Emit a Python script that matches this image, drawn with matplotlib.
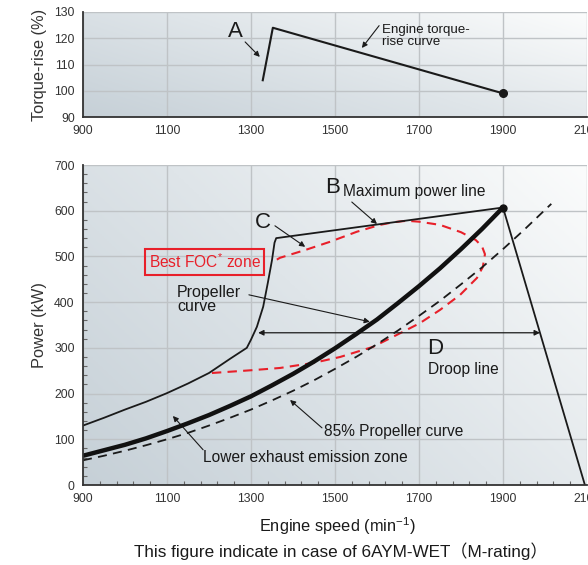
import numpy as np
import matplotlib
matplotlib.use("Agg")
import matplotlib.pyplot as plt
from matplotlib.colors import LinearSegmentedColormap

plt.rcParams['font.family'] = ['Liberation Sans', 'Noto Sans CJK JP', 'DejaVu Sans']
plt.rcParams['mathtext.fontset'] = 'custom'
plt.rcParams['mathtext.rm'] = 'Liberation Sans'
plt.rcParams['mathtext.it'] = 'Liberation Sans'
plt.rcParams['mathtext.bf'] = 'Liberation Sans'

# ---------------- data ----------------
# torque-rise (top panel)
tq_speed = [1328, 1352, 1900]
tq_rise = [104, 124, 99]

# propeller curve (thick)
prop_speed = [900, 950, 1000, 1050, 1100, 1150, 1200, 1250, 1300, 1350, 1400, 1450, 1500,
              1550, 1600, 1650, 1700, 1750, 1800, 1850, 1900]
prop_power = [64, 76, 88, 102, 118, 135, 153, 173, 194, 218, 243, 270, 299,
              330, 362, 398, 435, 474, 516, 560, 607]

# 85% propeller curve (dashed)
p85_speed = [900, 950, 1000, 1050, 1100, 1150, 1200, 1250, 1300, 1350, 1400, 1450, 1500,
             1550, 1600, 1650, 1700, 1750, 1800, 1850, 1900, 1950, 2015]
p85_power = [54, 64, 75, 87, 100, 114, 130, 147, 165, 185, 206, 229, 254,
             280, 308, 338, 370, 403, 439, 476, 516, 558, 615]

# limit curve + maximum power line
lim_speed = [900, 950, 1000, 1050, 1100, 1150, 1200, 1250, 1290, 1300, 1314, 1329, 1340,
             1350, 1356, 1360, 1900]
lim_power = [130, 147, 165, 182, 201, 222, 245, 276, 300, 318, 346, 390, 442,
             492, 530, 540, 607]

# droop line
droop_speed = [1900, 2095]
droop_power = [607, 0]

# best FOC zone (red dashed)
foc_speed = [1207, 1300, 1369, 1448, 1512, 1590, 1655, 1702, 1750, 1798, 1838, 1852, 1857,
             1850, 1835, 1800, 1750, 1700, 1671, 1640, 1607, 1552, 1488, 1429, 1369, 1352]
foc_power = [245, 251, 256, 267, 280, 302, 332, 354, 383, 416, 453, 477, 505,
             522, 536, 553, 569, 576, 578, 575, 569, 554, 532, 514, 497, 488]

x_ticks = [900, 1100, 1300, 1500, 1700, 1900, 2100]
tq_ticks = [90, 100, 110, 120, 130]
pw_ticks = [0, 100, 200, 300, 400, 500, 600, 700]

# ---------------- figure ----------------
W, H = 588, 565
fig = plt.figure(figsize=(W / 100, H / 100), dpi=100)

left = 83 / W
width = (587 - 83) / W
ax1 = fig.add_axes([left, (H - 117) / H, width, 105 / H])
ax2 = fig.add_axes([left, (H - 485) / H, width, 320 / H])

cmap = LinearSegmentedColormap.from_list('bg', ['#c6d0d7', '#dfe5e9', '#fbfcfc'])
gx, gy = np.meshgrid(np.linspace(0, 1, 200), np.linspace(0, 1, 200))
grad = (gx * 0.6 + gy * 0.4)

dark = '#333333'
grid_c = '#bfc3c6'

def style(ax, xlim, ylim, yt):
    ax.set_xlim(*xlim)
    ax.set_ylim(*ylim)
    ax.imshow(grad, extent=[xlim[0], xlim[1], ylim[0], ylim[1]], origin='lower',
              cmap=cmap, aspect='auto', zorder=0, interpolation='bilinear')
    ax.set_xticks(x_ticks)
    ax.set_yticks(yt)
    ax.grid(True, color=grid_c, lw=1.0, zorder=1)
    ax.set_axisbelow(True)
    for s in ['top', 'right']:
        ax.spines[s].set_visible(False)
    for s in ['left', 'bottom']:
        ax.spines[s].set_color(dark)
        ax.spines[s].set_linewidth(1.3)
        ax.spines[s].set_zorder(5)
    ax.tick_params(axis='both', which='major', length=0, labelsize=8.8,
                   labelcolor=dark, pad=6)

style(ax1, (900, 2100), (90, 130), tq_ticks)
style(ax2, (900, 2100), (0, 700), pw_ticks)

ax2.set_xticks(np.arange(900, 2101, 40), minor=True)
ax2.set_yticks(np.arange(0, 701, 20), minor=True)
ax2.tick_params(which='minor', direction='in', length=3, color='#666666', width=0.8)

# ---- top panel ----
ax1.plot(tq_speed, tq_rise, color='#1a1a1a', lw=1.5, zorder=3)
ax1.plot([tq_speed[-1]], [tq_rise[-1]], 'o', color='#1a1a1a', ms=5.5, zorder=4)
ax1.set_ylabel('Torque-rise (%)', fontsize=11.8, color=dark)
ax1.yaxis.set_label_coords(-0.071, 0.5)

arrow_kw = dict(arrowstyle='-|>', color='#1a1a1a', lw=0.8, mutation_scale=8,
                shrinkA=0, shrinkB=0)
ax1.text(1262, 122.4, 'A', fontsize=16, ha='center', va='center', color='#1a1a1a')
ax1.annotate('', xy=(1321, 112.9), xytext=(1286, 118.6), arrowprops=arrow_kw)
ax1.text(1612, 120.9, 'Engine torque-\nrise curve', fontsize=9.6, ha='left', va='center',
         color='#1a1a1a', linespacing=0.92)
ax1.annotate('', xy=(1564, 116.3), xytext=(1605, 124.8), arrowprops=arrow_kw)

# ---- bottom panel ----
ax2.plot(foc_speed, foc_power, color='#e8202a', lw=1.5, ls=(0, (4.5, 3)), zorder=3)
ax2.plot(p85_speed, p85_power, color='#1a1a1a', lw=1.3, ls=(0, (5, 3.5)), zorder=3)
ax2.plot(prop_speed, prop_power, color='#111111', lw=3.2, zorder=4, solid_capstyle='butt')
ax2.plot(lim_speed, lim_power, color='#1a1a1a', lw=1.3, zorder=4)
ax2.plot(droop_speed, droop_power, color='#1a1a1a', lw=1.3, zorder=4)
ax2.plot([1900], [607], 'o', color='#111111', ms=5, zorder=5)

ax2.text(1495, 650, 'B', fontsize=16, ha='center', va='center', color='#1a1a1a')
ax2.text(1519, 643, 'Maximum power line', fontsize=11.2, ha='left', va='center', color='#1a1a1a')
ax2.annotate('', xy=(1600, 571), xytext=(1540, 619), arrowprops=arrow_kw)

ax2.text(1329, 575, 'C', fontsize=16, ha='center', va='center', color='#1a1a1a')
ax2.annotate('', xy=(1429, 521), xytext=(1357, 567), arrowprops=arrow_kw)

ax2.text(1190, 488, 'Best FOC$^{*}$ zone', fontsize=11.2, ha='center', va='center',
         color='#e8202a',
         bbox=dict(boxstyle='square,pad=0.22', fc='none', ec='#e8202a', lw=1.5))

ax2.text(1124, 405, 'Propeller\ncurve', fontsize=11.5, ha='left', va='center',
         color='#1a1a1a', linespacing=0.92)
ax2.annotate('', xy=(1583, 357), xytext=(1295, 416), arrowprops=arrow_kw)

ax2.annotate('', xy=(1988, 333), xytext=(1317, 333),
             arrowprops=dict(arrowstyle='<|-|>', color='#1a1a1a', lw=0.9,
                             mutation_scale=8, shrinkA=0, shrinkB=0))
ax2.text(1738, 298, 'D', fontsize=16, ha='center', va='center', color='#1a1a1a')
ax2.text(1721, 252, 'Droop line', fontsize=11.2, ha='left', va='center', color='#1a1a1a')

ax2.text(1474, 116, '85% Propeller curve', fontsize=11.2, ha='left', va='center', color='#1a1a1a')
ax2.annotate('', xy=(1393, 186), xytext=(1469, 125), arrowprops=arrow_kw)

ax2.text(1186, 61, 'Lower exhaust emission zone', fontsize=11.2, ha='left', va='center',
         color='#1a1a1a')
ax2.annotate('', xy=(1114, 151), xytext=(1186, 77), arrowprops=arrow_kw)

ax2.set_ylabel('Power (kW)', fontsize=11.8, color=dark)
ax2.yaxis.set_label_coords(-0.071, 0.5)

fig.text(337 / W, 1 - 526 / H, 'Engine speed (min$^{\\mathregular{-1}}$)', fontsize=11.8,
         ha='center', va='center', color='#1a1a1a')
fig.text(341 / W, 1 - 551 / H, 'This figure indicate in case of 6AYM-WET（M-rating）',
         fontsize=12.3, ha='center', va='center', color='#1a1a1a')

fig.savefig('out.png', dpi=100)
